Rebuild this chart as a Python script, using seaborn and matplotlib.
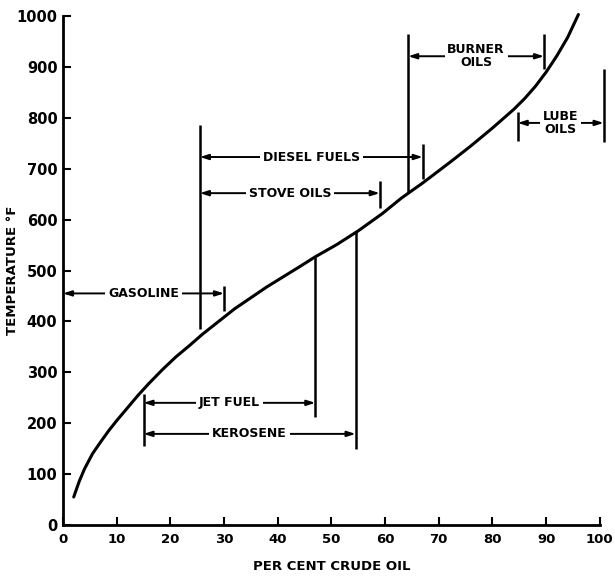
import matplotlib
matplotlib.use("Agg")
import matplotlib.pyplot as plt
import seaborn as sns
import pandas as pd

# distillation curve (per cent crude oil vs temperature F)
curve_pct = [2, 3, 4, 5.5, 7, 8.5, 10, 12, 14, 16, 18.5, 21, 23.5, 26, 29, 32,
             38, 44, 47, 51, 55, 59.5, 63, 67, 72, 76, 80, 84, 86, 88, 90,
             92, 94, 96]
curve_temp = [55, 85, 110, 140, 163, 185, 205, 230, 255, 278, 305, 330, 352, 375, 400, 425,
              468, 507, 527, 551, 578, 612, 642, 672, 712, 745, 780, 817, 838, 862, 890,
              922, 958, 1003]

# product cut ranges: label, start %, end %, temperature level of the arrow
cut_names = ["GASOLINE", "JET FUEL", "KEROSENE", "DIESEL FUELS", "STOVE OILS",
             "BURNER\nOILS", "LUBE\nOILS"]
cut_start = [0, 15, 15, 25.5, 25.5, 64.3, 84.7]
cut_end = [30, 47, 54.5, 67, 59, 89.6, 100.7]
cut_level = [455, 240, 179, 723, 652, 921, 790]

# vertical limit bars: x, bottom, top
bar_x = [25.5, 30, 15, 47, 54.5, 59, 64.3, 67, 89.6, 84.7, 100.7]
bar_lo = [385, 420, 155, 212, 150, 622, 655, 680, 895, 755, 752]
bar_hi = [785, 470, 257, 527, 576, 675, 965, 748, 965, 812, 895]

x_ticks = [0, 10, 20, 30, 40, 50, 60, 70, 80, 90, 100]
y_ticks = [0, 100, 200, 300, 400, 500, 600, 700, 800, 900, 1000]

sns.set_style("ticks")
plt.rcParams["font.family"] = ["DejaVu Sans"]
plt.rcParams["font.weight"] = "bold"
plt.rcParams["text.color"] = "black"
plt.rcParams["axes.labelcolor"] = "black"

fig = plt.figure(figsize=(6.15, 5.81), dpi=100)
ax = fig.add_axes([0.1024, 0.0964, 0.873, 0.876])

df = pd.DataFrame({"pct": curve_pct, "temp": curve_temp})
sns.lineplot(data=df, x="pct", y="temp", color="black", lw=2.2, ax=ax)
ax.lines[0].set_clip_on(False)

ax.vlines(bar_x, bar_lo, bar_hi, colors="black", lw=1.8, clip_on=False)

for name, a, b, lev in zip(cut_names, cut_start, cut_end, cut_level):
    ax.annotate("", xy=(a, lev), xytext=(b, lev),
                arrowprops=dict(arrowstyle="<|-|>,head_length=0.5,head_width=0.16",
                                color="black", lw=1.4, shrinkA=0, shrinkB=0),
                annotation_clip=False)
    ax.text((a + b) / 2, lev, name, ha="center", va="center", fontsize=9,
            fontweight="bold", color="black", linespacing=1.0, zorder=5,
            bbox=dict(facecolor="white", edgecolor="none", pad=2))

ax.set_xlim(0, 100)
ax.set_ylim(0, 1000)
ax.set_xticks(x_ticks)
ax.set_yticks(y_ticks)
ax.tick_params(axis="both", direction="in", length=6, width=1.5, colors="black")
ax.tick_params(axis="x", pad=6, labelsize=9.5)
ax.tick_params(axis="y", pad=4, labelsize=10.5)
for lab in ax.get_xticklabels() + ax.get_yticklabels():
    lab.set_fontweight("bold")

ax.set_xlabel("PER CENT CRUDE OIL", fontsize=9.5, fontweight="bold", labelpad=10)
ax.set_ylabel("TEMPERATURE °F", fontsize=9.5, fontweight="bold")
ax.yaxis.set_label_coords(-0.082, 0.5)

sns.despine(ax=ax)
for s in ("left", "bottom"):
    ax.spines[s].set_linewidth(2)
    ax.spines[s].set_color("black")

fig.savefig("out.png", dpi=100)
